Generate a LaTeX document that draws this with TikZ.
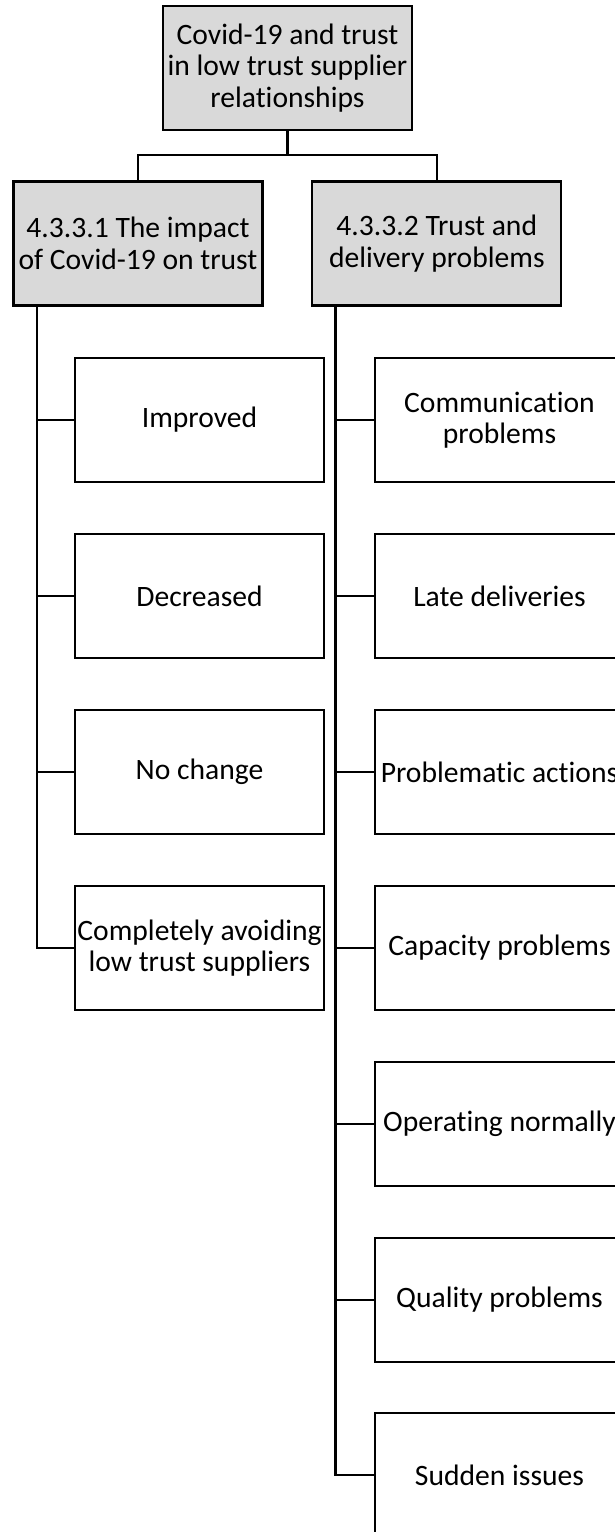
\documentclass[tikz,border=0pt]{standalone}
\usepackage{fontspec}
\setmainfont{Carlito}[Ligatures=NoCommon]
\tikzset{
  box/.style={draw=black, line width=2.2pt, rectangle, inner sep=0pt,
    minimum width=249pt, minimum height=124pt, align=center,
    font=\fontsize{29.6}{31.5}\selectfont},
  headbox/.style={box, fill=black!15},
  leaf/.style={box, fill=white},
  link/.style={draw=black, line width=2.2pt}
}
\begin{document}
\begin{tikzpicture}[x=1pt, y=-1pt]
\useasboundingbox (0,0) rectangle (615,1532);
\clip (0,0) rectangle (615,1532);
\fill[white] (0,0) rectangle (615,1532);

% top of the hierarchy
\node[headbox] (root) at (287.5,68) {Covid-19 and trust\\in low trust supplier\\relationships};

% second level
\node[headbox] (impact) at (138,243.5) {4.3.3.1 The impact\\of Covid-19 on trust};
\node[headbox] (delivery) at (436.8,243.5) {4.3.3.2 Trust and\\delivery problems};

% branch from the top box to both sections
\coordinate (split) at (287.5,155);
\draw[link] (root.south) -- (split);
\draw[link] (split) -| (impact.north);
\draw[link] (split) -| (delivery.north);

% first section: impact of Covid-19 on trust
\node[leaf] (improved)  at (199.5,420) {Improved};
\node[leaf] (decreased) at (199.5,596) {Decreased};
\node[leaf] (nochange)  at (199.5,772) {No change};
\node[leaf] (avoiding)  at (199.5,948) {Completely avoiding\\low trust suppliers};

\coordinate (trunkA) at ([xshift=24.3pt]impact.south west);
\foreach \c in {improved,decreased,nochange,avoiding}
  \draw[link] (trunkA) |- (\c.west);

% second section: trust and delivery problems
\node[leaf] (comm)     at (499.5,420)  {Communication\\problems};
\node[leaf] (late)     at (499.5,596)  {Late deliveries};
\node[leaf] (actions)  at (499.5,772)  {Problematic actions};
\node[leaf] (capacity) at (499.5,948)  {Capacity problems};
\node[leaf] (normal)   at (499.5,1124) {Operating normally};
\node[leaf] (quality)  at (499.5,1300) {Quality problems};
\node[leaf] (sudden)   at (499.5,1475) {Sudden issues};

\coordinate (trunkB) at ([xshift=24.3pt]delivery.south west);
\foreach \c in {comm,late,actions,capacity,normal,quality,sudden}
  \draw[link] (trunkB) |- (\c.west);
\end{tikzpicture}
\end{document}
